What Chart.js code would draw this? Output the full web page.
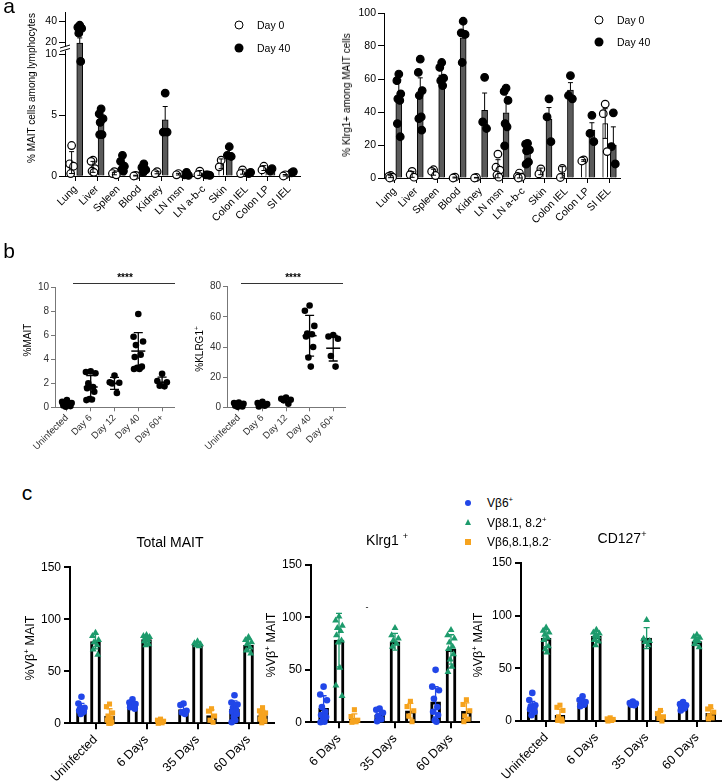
<!DOCTYPE html>
<html><head><meta charset="utf-8">
<script src="https://cdn.jsdelivr.net/npm/chart.js@4.4.1/dist/chart.umd.min.js"></script>
<style>
html,body{margin:0;padding:0;background:#fff}
body{position:relative;width:722px;height:781px;overflow:hidden;font-family:"Liberation Sans",Arial,Helvetica,sans-serif;color:#000}
canvas{position:absolute}
.t{position:absolute;white-space:nowrap;line-height:1;transform:translate(-50%,-50%)}
.l{position:absolute;white-space:nowrap;line-height:1;transform:translate(0,-50%)}
.r{transform:translate(-50%,-50%) rotate(-90deg)}
sup{font-size:65%;vertical-align:super;line-height:0}
.ln{position:absolute;height:0;border-top:1px solid #333}
</style></head><body>
<div class="t" style="left:9px;top:5px;font-size:21px">a</div>
<div class="t" style="left:9px;top:250px;font-size:21px">b</div>
<div class="t" style="left:27px;top:492px;font-size:21px">c</div>

<div class="t" style="left:239px;top:25px;width:7px;height:7px;border:1.2px solid #000;border-radius:50%;background:#fff"></div>
<div class="t" style="left:239px;top:48px;width:9px;height:9px;border-radius:50%;background:#000"></div>
<div class="l" style="left:257px;top:25px;font-size:10.5px">Day 0</div>
<div class="l" style="left:257px;top:48px;font-size:10.5px">Day 40</div>

<div class="t" style="left:599px;top:20px;width:7px;height:7px;border:1.2px solid #000;border-radius:50%;background:#fff"></div>
<div class="t" style="left:599px;top:42px;width:9px;height:9px;border-radius:50%;background:#000"></div>
<div class="l" style="left:617px;top:20px;font-size:10.5px">Day 0</div>
<div class="l" style="left:617px;top:42px;font-size:10.5px">Day 40</div>

<div class="t r" style="left:32px;top:88px;font-size:10px">% MAIT cells among lymphocytes</div>
<div class="t r" style="left:347px;top:95px;font-size:10px">% Klrg1+ among MAIT cells</div>
<div class="t r" style="left:28px;top:340px;font-size:10px">%MAIT</div>
<div class="t r" style="left:200px;top:349px;font-size:10px">%KLRG1<sup>+</sup></div>

<div class="t" style="left:125px;top:278px;font-size:10px;font-weight:bold">****</div>
<div class="ln" style="left:73px;top:283px;width:102px"></div>
<div class="t" style="left:293px;top:278px;font-size:10px;font-weight:bold">****</div>
<div class="ln" style="left:241px;top:283px;width:102px"></div>

<div class="t" style="left:468px;top:503px;width:6px;height:6px;border-radius:50%;background:#2146e8"></div>
<div class="t" style="left:468px;top:522px;width:0;height:0;border-left:3.5px solid transparent;border-right:3.5px solid transparent;border-bottom:6px solid #1d9b6c"></div>
<div class="t" style="left:468px;top:542px;width:6px;height:6px;background:#f6a31e"></div>
<div class="l" style="left:487px;top:503px;font-size:12px">Vβ6<sup>+</sup></div>
<div class="l" style="left:487px;top:523px;font-size:12px">Vβ8.1, 8.2<sup>+</sup></div>
<div class="l" style="left:487px;top:542px;font-size:12px">Vβ6,8.1,8.2<sup>-</sup></div>

<div class="t" style="left:170px;top:542px;font-size:14px">Total MAIT</div>
<div class="t" style="left:387px;top:540px;font-size:14px">Klrg1 <sup>+</sup></div>
<div class="t" style="left:622px;top:538px;font-size:14px">CD127<sup>+</sup></div>
<div class="t" style="left:367px;top:607px;font-size:9px">-</div>

<div class="t r" style="left:30px;top:648px;font-size:12.5px">%Vβ<sup>+</sup> MAIT</div>
<div class="t r" style="left:271px;top:645px;font-size:12.5px">%Vβ<sup>+</sup> MAIT</div>
<div class="t r" style="left:478px;top:645px;font-size:12.5px">%Vβ<sup>+</sup> MAIT</div>

<script>
// ================= DATA =================
// Panel a
const aCategories = ['Lung','Liver','Spleen','Blood','Kidney','LN msn','LN a-b-c','Skin','Colon IEL','Colon LP','SI IEL'];
const aMaitTicksLow = [0, 5, 10];
const aMaitTicksHigh = [20, 40];
const aMaitDay0Points = [[2.5,1.0,0.8,0.2],[1.3,1.2,0.6,0.4,0.3],[0.35,0.2,0.1],[0.05,0.0],[0.35,0.2],[0.2,0.1],[0.4,0.1],[1.3,0.75],[0.5,0.2],[0.8,0.5],[0.1,0.0]];
const aMaitDay0Mean = [1.1,0.75,0.2,0.03,0.28,0.15,0.25,1.0,0.35,0.65,0.05];
const aMaitDay0Sd = [0.9,0.45,0.1,0.03,0.1,0.07,0.2,0.4,0.2,0.2,0.07];
const aMaitDay40Points = [[36,34,33,28.5,9.4],[5.5,5.1,4.7,4.4,3.4,3.4],[1.7,1.2,0.8,0.5,0.4],[1.0,0.7,0.5,0.3],[6.8,3.6,3.6],[0.3,0.1,0.05],[0.1,0.1,0.05],[2.4,1.7,1.6],[0.3,0.2],[0.6,0.4],[0.35,0.25]];
const aMaitDay40Mean = [19,4.4,0.9,0.6,4.6,0.15,0.08,1.9,0.25,0.5,0.3];
const aMaitDay40Sd = [5,0.9,0.5,0.3,1.1,0.1,0.03,0.4,0.05,0.1,0.05];

const aKlrgTicks = [0,20,40,60,80,100];
const aKlrgDay0Points = [[1.5,1.0,0.5,0],[4,2,0.5],[5,4,1.5],[0.5,0],[0.3,0],[14.5,6.5,4.8,1.8,0.5],[3,1,0.5,0],[5.5,2.5],[5.8,0.3],[11,10.3],[44.8,39,16]];
const aKlrgDay0Mean = [0.8,2.2,3.5,0.25,0.15,5.6,1.1,4,3,10.6,33];
const aKlrgDay0Sd = [0.6,1.8,1.8,0.3,0.2,5.5,1.3,2,3.9,0.5,9];
const aKlrgDay40Points = [[63,59,51,48,47,33,25],[72,64,53,50,37,36,29],[70,67,60.5,59,56],[95,88,87,70],[61,34,30],[54.5,52.5,47,33,31,19.5],[21,20.5,17,16.5,9.7,8.4],[48,37,22],[62,50,48],[38,27,22],[39.5,19,8.5]];
const aKlrgDay40Mean = [46.5,48.7,62.5,85,41,39.5,15.5,35.7,53.3,29,20];
const aKlrgDay40Sd = [13,12,5.5,10.5,10.5,13.5,5.5,7,4.5,4.5,11];

// Panel b
const bCategories = ['Uninfected','Day 6','Day 12','Day 40','Day 60+'];
const bMaitTicks = [0,2,4,6,8,10];
const bMaitPoints = [[0.6,0.45,0.35,0.25,0.2,0.15,0.1,0.05,0.2],[3.0,2.95,2.85,2.0,1.7,1.6,1.3,0.7,0.65,0.6],[2.65,2.1,2.05,2.0,1.2],[7.8,5.9,5.5,5.2,4.4,4.2,3.4,3.3,3.2,3.2],[2.8,2.2,2.1,1.8,1.75]];
const bMaitMean = [0.25,1.7,2.0,4.7,2.1];
const bMaitSd = [0.18,0.95,0.5,1.55,0.42];
const bKlrgTicks = [0,20,40,60,80];
const bKlrgPoints = [[3.2,2.8,2.4,2.0,1.5,1.0,0.6,0.3,1.2],[3.6,2.8,2.1,1.5,1.0,0.6],[6.5,5.6,5.0,4.6,2.4],[67.5,64,54,49,48.5,47,40,33,27],[48,47,45.5,34,27]];
const bKlrgMean = [1.6,1.9,4.8,47.5,39.2];
const bKlrgSd = [1.0,1.1,1.5,13.5,8.5];

// Panel c
const cTicks = [0,50,100,150];
const cCategoriesTotal = ['Uninfected','6 Days','35 Days','60 Days'];
const cCategoriesKlrg = ['6 Days','35 Days','60 Days'];
const cCategoriesCd127 = ['Uninfected','6 Days','35 Days','60 Days'];
const cSeriesNames = ['Vβ6+','Vβ8.1, 8.2+','Vβ6,8.1,8.2-'];

const cTotalVb6Points = [[25.5,19,15,14,13,12,11,9],[23,20,18.5,17.5,16.5,15.5,14],[19,17.5,12,10.5,9],[27,20,18,15,13,11,9,6,3,1]];
const cTotalVb6Mean = [13.7,17.6,13.3,13.5];
const cTotalVb6Sd = [5.5,3,4.5,8];
const cTotalVb8Points = [[87,84,80,78,75,71,66],[85,84,83,82,80,79,76,75],[79,77,76,75,74],[83,80,78,76,73,70,67]];
const cTotalVb8Mean = [78.5,80.5,76,75];
const cTotalVb8Sd = [7,3.5,2,5.5];
const cTotalNegPoints = [[18.5,16,10,7,5,3,1,0,0],[4,3,2,1,0.5,0],[14,11.7,7,3,1],[15,12,10,8,6,4,2,0.5]];
const cTotalNegMean = [7,2,7.5,7.5];
const cTotalNegSd = [7,1.5,5.5,5];

const cKlrgVb6Points = [[34,26.5,21,14.5,10,7,5,2,0.6,0],[13,12,9,6,3,1],[50,34,30.5,22.5,14.5,10,7,2,0.6]];
const cKlrgVb6Mean = [13.3,7,19.6];
const cKlrgVb6Sd = [12,4.5,14.5];
const cKlrgVb8Points = [[101,97,92,90,87,83,78,76,52,35,25],[90,83,80,78,75,72],[88,83,80,76,72,70,65,60,53,48]];
const cKlrgVb8Mean = [78.4,76.8,69.5];
const cKlrgVb8Sd = [25.5,8,14];
const cKlrgNegPoints = [[12,5.5,2,1,0.5,0],[20,15,11,6,0.6],[21.5,17,11,6,3,0.6]];
const cKlrgNegMean = [3.5,11,10.5];
const cKlrgNegSd = [4.5,7,8];

const cCdVb6Points = [[26.7,20,15,14,12,11,8.6,5.4],[23.5,20,18,17,15.5,14],[18.4,17,16.5,15.5,15],[18,16,15,13,12,10]];
const cCdVb6Mean = [12.5,17,16.8,13.6];
const cCdVb6Sd = [6,3.5,1.5,3];
const cCdVb8Points = [[88.8,85.7,84,82,79,77,71,68,65],[86.7,84,83,81,80,77,75.5,72],[96,78,76,75,72],[82,80,79,77,76,73,70]];
const cCdVb8Mean = [78.7,80.3,78.7,75.5];
const cCdVb8Sd = [8,4.5,10,4];
const cCdNegPoints = [[15,13,10,4,2,0.6,0],[3,2,1.5,1,0.5,0],[10,7,4,2.5,0],[13.6,11.4,8.3,5,3,2]];
const cCdNegMean = [5.5,1.5,5.5,7.3];
const cCdNegSd = [5.5,1,4,4.5];

// ================= HELPERS =================
const FONT = '"Liberation Sans", Arial, Helvetica, sans-serif';
Chart.defaults.font.family = FONT;
Chart.defaults.color = '#000';

const JIT = [0,-1,1,-0.5,0.5,-0.75,0.75,-0.25,0.25,-0.9,0.9,0.1];
function pts(groups, off, spread){
  const out=[]; groups.forEach((vals,i)=>vals.forEach((v,k)=>out.push({x:i+off+JIT[k%JIT.length]*spread, y:v}))); return out;
}
function xScale(cats, xh, fs, st){
  return {type:'linear', position:'bottom', min:-0.5, max:cats.length-0.5, offset:false,
    afterBuildTicks:s=>{s.ticks=cats.map((c,i)=>({value:i}));},
    afterFit:s=>{s.height=xh;},
    grid:{offset:false, drawOnChartArea:false, drawTicks:true, tickLength:st.tl, color:st.c, lineWidth:st.lw},
    border:{display:true, color:st.c, width:st.lw},
    ticks:{autoSkip:false, maxRotation:45, minRotation:45, padding:st.pad||1, font:{size:fs}, color:st.tc, callback:v=>cats[Math.round(v)]||''}};
}
function yScale(min, max, tv, yw, fs, st, extra){
  return Object.assign({type:'linear', position:'left', min, max,
    afterBuildTicks:s=>{s.ticks=tv.map(v=>({value:v}));},
    afterFit:s=>{s.width=yw;},
    grid:{drawOnChartArea:false, drawTicks:true, tickLength:st.tl, color:st.c, lineWidth:st.lw},
    border:{display:true, color:st.c, width:st.lw},
    ticks:{font:{size:fs}, color:st.tc, padding:st.pad||2}}, extra||{});
}
function barDs(data, y, bg, bc, bw, th, skip){
  return {type:'bar', data, yAxisID:y, backgroundColor:bg, borderColor:bc, borderWidth:bw, barThickness:th, grouped:false, order:3, borderSkipped:skip||'start'};
}
function ptDs(data, y, style, r, bg, bc, bw){
  return {type:'scatter', data, yAxisID:y, pointStyle:style, pointRadius:r, pointHoverRadius:r, pointBackgroundColor:bg, pointBorderColor:bc, pointBorderWidth:bw, backgroundColor:bg, borderColor:bc, order:0, clip:false, showLine:false};
}
function errPlugin(items){
  return {id:'errbars', afterDatasetsDraw(chart){
    const ctx=chart.ctx, xs=chart.scales.x;
    items.forEach(it=>{
      ctx.save(); ctx.strokeStyle=it.color; ctx.lineWidth=it.lw;
      it.mean.forEach((m,i)=>{
        const s=it.sd[i]; if(!s) return;
        const ys=chart.scales[it.axis?it.axis(m):'y'];
        const px=xs.getPixelForValue(i+it.off);
        const pm=ys.getPixelForValue(m), pt=ys.getPixelForValue(m+s), pb=ys.getPixelForValue(Math.max(m-s, ys.min));
        ctx.beginPath();
        ctx.moveTo(px, it.both?pb:pm); ctx.lineTo(px, pt);
        ctx.moveTo(px-it.cap, pt); ctx.lineTo(px+it.cap, pt);
        if(it.both){ctx.moveTo(px-it.cap, pb); ctx.lineTo(px+it.cap, pb);}
        ctx.stroke();
      });
      ctx.restore();
    });
  }};
}
function makeChart(box, area, scales, datasets, plugins){
  const cv=document.createElement('canvas'); cv.width=box.w; cv.height=box.h;
  cv.style.left=box.x+'px'; cv.style.top=box.y+'px'; cv.style.width=box.w+'px'; cv.style.height=box.h+'px';
  document.body.insertBefore(cv, document.body.firstChild);
  return new Chart(cv, {type:'bar', data:{datasets}, plugins:plugins||[], options:{
    responsive:false, devicePixelRatio:1, animation:false, events:[],
    layout:{padding:{left:0, top:area.t-box.y, right:box.x+box.w-area.r, bottom:0}},
    plugins:{legend:{display:false}, tooltip:{enabled:false}},
    scales}});
}
function dims(box, area){ return {yw:area.l-box.x, xh:box.y+box.h-area.b}; }

// ================= PANEL a (left, broken axis) =================
(function(){
  const box={x:0,y:0,w:320,h:225}, area={l:65,t:12,r:300,b:176}, d=dims(box,area);
  const st={tl:6, c:'#000', lw:1, tc:'#000'};
  const OFF=0.19, LOW_MAX=10.5, HIGH_MIN=14.4, HIGH_MAX=48.6;
  const d0=pts(aMaitDay0Points,-OFF,0.09), d40=pts(aMaitDay40Points,OFF,0.09);
  const scales={
    x:xScale(aCategories, d.xh, 10.5, Object.assign({},st,{tl:5,pad:2})),
    y:yScale(0, LOW_MAX, aMaitTicksLow, d.yw, 10.5, st, {stack:'a', stackWeight:128}),
    yTop:yScale(HIGH_MIN, HIGH_MAX, aMaitTicksHigh, d.yw, 10.5, st, {stack:'a', stackWeight:36})
  };
  const ds=[
    ptDs(d0.filter(p=>p.y<=LOW_MAX),'y','circle',3.8,'#fff','#000',1.2),
    ptDs(d40.filter(p=>p.y<=LOW_MAX),'y','circle',3.8,'#000','#000',1.2),
    ptDs(d40.filter(p=>p.y>LOW_MAX),'yTop','circle',3.8,'#000','#000',1.2),
    barDs(aMaitDay0Mean.map((m,i)=>({x:i-OFF,y:m})),'y','#fff','#000',1,5),
    barDs(aMaitDay40Mean.map((m,i)=>({x:i+OFF,y:Math.min(m,LOW_MAX)})),'y','#5a5a5a','#000',1,6,
      c=>aMaitDay40Mean[c.dataIndex]>LOW_MAX?'end':'start'),
    barDs(aMaitDay40Mean.map((m,i)=>({x:i+OFF,y:[HIGH_MIN,m]})).filter(p=>p.y[1]>LOW_MAX),'yTop','#5a5a5a','#000',1,6)
  ];
  const brk={id:'axbreak', afterDraw(chart){
    const s=chart.scales.yTop, ctx=chart.ctx, x=s.right, y=s.bottom;
    ctx.save(); ctx.fillStyle='#fff'; ctx.fillRect(x-6,y-1.5,12,4);
    ctx.strokeStyle='#000'; ctx.lineWidth=1; ctx.beginPath();
    ctx.moveTo(x-5,y); ctx.lineTo(x+5,y-3); ctx.moveTo(x-5,y+3.5); ctx.lineTo(x+5,y+0.5); ctx.stroke(); ctx.restore();
  }};
  makeChart(box, area, scales, ds, [errPlugin([
    {mean:aMaitDay0Mean, sd:aMaitDay0Sd, off:-OFF, color:'#000', lw:1, cap:2.5, both:true},
    {mean:aMaitDay40Mean, sd:aMaitDay40Sd, off:OFF, color:'#000', lw:1, cap:2.5, both:false, axis:m=>m>LOW_MAX?'yTop':'y'}
  ]), brk]);
})();

// ================= PANEL a (right) =================
(function(){
  const box={x:340,y:0,w:300,h:230}, area={l:384,t:13,r:620,b:178}, d=dims(box,area);
  const st={tl:6, c:'#000', lw:1, tc:'#000'};
  const OFF=0.19;
  const scales={ x:xScale(aCategories, d.xh, 10.5, Object.assign({},st,{tl:5,pad:2})), y:yScale(0,100,aKlrgTicks,d.yw,10.5,st) };
  const ds=[
    ptDs(pts(aKlrgDay0Points,-OFF,0.09),'y','circle',3.8,'#fff','#000',1.2),
    ptDs(pts(aKlrgDay40Points,OFF,0.09),'y','circle',3.8,'#000','#000',1.2),
    barDs(aKlrgDay0Mean.map((m,i)=>({x:i-OFF,y:m})),'y','#fff','#000',1,5),
    barDs(aKlrgDay40Mean.map((m,i)=>({x:i+OFF,y:m})),'y','#5a5a5a','#000',1,6)
  ];
  makeChart(box, area, scales, ds, [errPlugin([
    {mean:aKlrgDay0Mean, sd:aKlrgDay0Sd, off:-OFF, color:'#000', lw:1, cap:2.5, both:true},
    {mean:aKlrgDay40Mean, sd:aKlrgDay40Sd, off:OFF, color:'#000', lw:1, cap:2.5, both:false}
  ])]);
})();

// ================= PANEL b =================
function panelB(box, area, cats, max, ticks, points, mean, sd){
  const d=dims(box,area);
  const st={tl:4, c:'#777', lw:1, tc:'#333'};
  const scales={ x:xScale(cats, d.xh, 9.5, st), y:yScale(0,max,ticks,d.yw,10,st) };
  const ds=[
    ptDs(pts(points,0,0.2),'y','circle',3.3,'#000','#000',0),
    ptDs(mean.map((m,i)=>({x:i,y:m})),'y','line',7,'#000','#000',1.5)
  ];
  makeChart(box, area, scales, ds, [errPlugin([{mean, sd, off:0, color:'#000', lw:1.3, cap:4.5, both:true}])]);
}
panelB({x:0,y:265,w:190,h:185},{l:55,t:287.7,r:174,b:407.3}, bCategories, 10, bMaitTicks, bMaitPoints, bMaitMean, bMaitSd);
panelB({x:190,y:265,w:170,h:185},{l:227,t:286.7,r:345,b:407.3}, bCategories, 80, bKlrgTicks, bKlrgPoints, bKlrgMean, bKlrgSd);

// ================= PANEL c =================
const C_BLUE='#2146e8', C_GREEN='#1d9b6c', C_ORANGE='#f6a31e';
function panelC(box, area, cats, series){
  const d=dims(box,area);
  const st={tl:6, c:'#000', lw:2, tc:'#000', pad:3};
  const scales={ x:xScale(cats, d.xh, 12.5, st), y:yScale(0,150,cTicks,d.yw,12,st) };
  const offs=[-0.275,0,0.275], colors=[C_BLUE,C_GREEN,C_ORANGE], styles=['circle','triangle','rect'], radii=[3.3,4,3.6];
  const ds=[], errs=[];
  series.forEach((s,k)=>{
    ds.push(ptDs(pts(s.points,offs[k],0.06),'y',styles[k],radii[k],colors[k],colors[k],0));
    ds.push(barDs(s.mean.map((m,i)=>({x:i+offs[k],y:m})),'y','#fff','#000',3,10));
    errs.push({mean:s.mean, sd:s.sd, off:offs[k], color:colors[k], lw:1.3, cap:3, both:true});
  });
  makeChart(box, area, scales, ds, [errPlugin(errs)]);
}
panelC({x:0,y:550,w:290,h:231},{l:70,t:567.3,r:274,b:723.3}, cCategoriesTotal, [
  {points:cTotalVb6Points, mean:cTotalVb6Mean, sd:cTotalVb6Sd},
  {points:cTotalVb8Points, mean:cTotalVb8Mean, sd:cTotalVb8Sd},
  {points:cTotalNegPoints, mean:cTotalNegMean, sd:cTotalNegSd}]);
panelC({x:270,y:550,w:220,h:231},{l:311,t:565,r:479,b:722.3}, cCategoriesKlrg, [
  {points:cKlrgVb6Points, mean:cKlrgVb6Mean, sd:cKlrgVb6Sd},
  {points:cKlrgVb8Points, mean:cKlrgVb8Mean, sd:cKlrgVb8Sd},
  {points:cKlrgNegPoints, mean:cKlrgNegMean, sd:cKlrgNegSd}]);
panelC({x:480,y:550,w:260,h:231},{l:521,t:563,r:722,b:721}, cCategoriesCd127, [
  {points:cCdVb6Points, mean:cCdVb6Mean, sd:cCdVb6Sd},
  {points:cCdVb8Points, mean:cCdVb8Mean, sd:cCdVb8Sd},
  {points:cCdNegPoints, mean:cCdNegMean, sd:cCdNegSd}]);
</script>
</body></html>
